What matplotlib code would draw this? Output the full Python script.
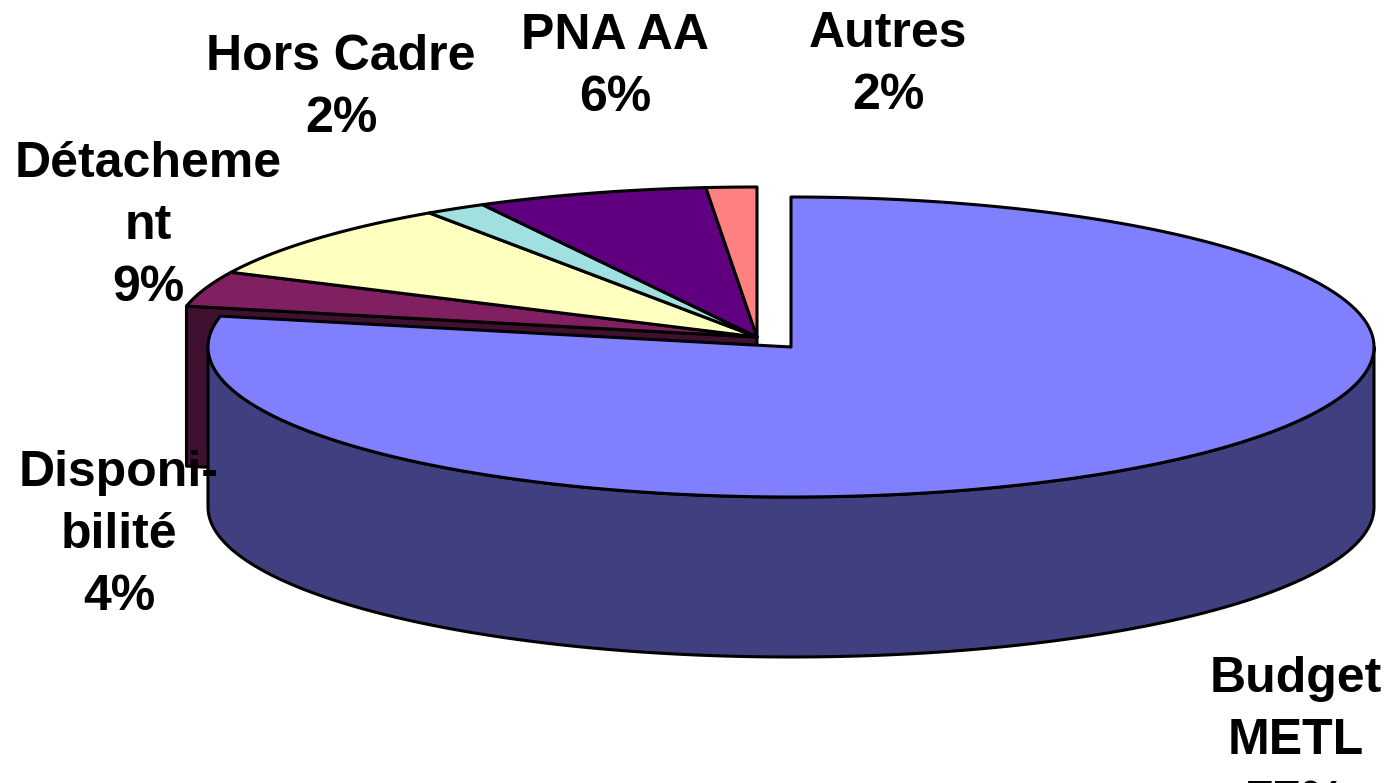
#!/usr/bin/env python
# -*- coding: utf-8 -*-

import numpy as np
import matplotlib
matplotlib.use('Agg')
import matplotlib.pyplot as plt
from matplotlib.patches import Polygon

categories = ['Budget\nMETL', 'Disponi-\nbilité', 'Détacheme\nnt', 'Hors Cadre', 'PNA AA', 'Autres']
percents = [77, 4, 9, 2, 6, 2]
# Slice sizes as drawn, the tilted view stretches them a little from the printed percents
shares = [78.3, 3.8, 8.4, 1.7, 6.4, 1.4]
topColors = ['#8080FF', '#802060', '#FFFFC0', '#A0E0E0', '#600080', '#FF8080']
sideColors = ['#404080', '#401030']
###############################################################################
# Pie geometry (pixels)
###############################################################################
(rx, ry, depth) = (583, 150, 160)
centerBudget = (791, 347)
centerRest = (757, 337)
labelPos = [(1296, 741), (119, 535), (148, 226), (341, 88), (615, 67), (888, 65)]
lw = 2.2


def rim(center, a0, a1, n=200):
    # Angles in degrees, clockwise from 12 o'clock
    t = np.radians(np.linspace(a0, a1, n))
    return np.column_stack((center[0]+rx*np.sin(t), center[1]-ry*np.cos(t)))


def addPoly(ax, pts, color, z):
    ax.add_patch(Polygon(
        pts, closed=True, facecolor=color, edgecolor='k',
        linewidth=lw, joinstyle='round', zorder=z
    ))


###############################################################################
# Plot
###############################################################################
(fig, ax) = plt.subplots(figsize=(13.95, 7.83), dpi=100)
ax.set_position([0, 0, 1, 1])
ax.set_xlim(0, 1395)
ax.set_ylim(783, 0)
ax.axis('off')
edges = np.cumsum([0]+shares)/sum(shares)*360
# Cut face of the second slice, seen in the gap left by the pulled out slice --
(a0, a1) = (edges[1], edges[2])
rimPt = rim(centerRest, a0, a0, 1)[0]
addPoly(ax, [
    centerRest, rimPt, (rimPt[0], rimPt[1]+depth),
    (centerRest[0], centerRest[1]+depth)
], sideColors[1], 1)
# Back slices, top faces only --------------------------------------------------
for i in range(1, len(shares)):
    pts = rim(centerRest, edges[i], edges[i+1])
    addPoly(ax, np.vstack((centerRest, pts)), topColors[i], 2)
# Pulled out slice -------------------------------------------------------------
front = rim(centerBudget, 90, 270)
addPoly(ax, np.vstack((front, (front+[0, depth])[::-1])), sideColors[0], 3)
pts = rim(centerBudget, edges[0], edges[1], 400)
addPoly(ax, np.vstack((centerBudget, pts)), topColors[0], 4)
# Labels -----------------------------------------------------------------------
for (cat, pct, pos) in zip(categories, percents, labelPos):
    ax.text(
        pos[0], pos[1], f'{cat}\n{pct}%', ha='center', va='center',
        family='Liberation Sans', fontweight='bold', fontsize=36,
        linespacing=1.45, color='k', zorder=5
    )
plt.savefig('out.png', dpi=100)
